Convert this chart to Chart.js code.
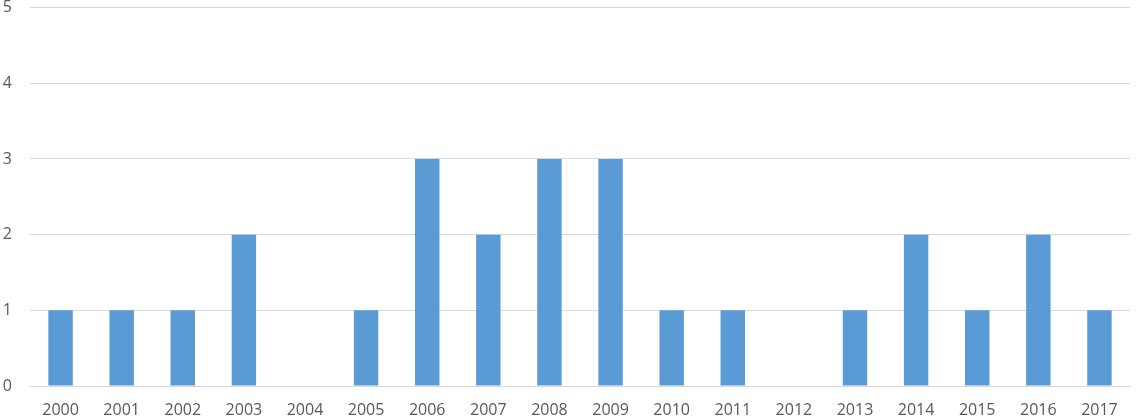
<!DOCTYPE html>
<html>
<head>
<meta charset="utf-8">
<script src="https://cdn.jsdelivr.net/npm/chart.js@4"></script>
<style>
html,body{margin:0;padding:0;overflow:hidden;background:#fff;}
#wrap{width:1140px;height:460px;position:relative;top:-20px;}
</style>
</head>
<body>
<div id="wrap"><canvas id="c"></canvas></div>
<script>
const categories = ["2000","2001","2002","2003","2004","2005","2006","2007","2008","2009","2010","2011","2012","2013","2014","2015","2016","2017"];
const values = [1,1,1,2,0,1,3,2,3,3,1,1,0,1,2,1,2,1];
const yTicks = [0,1,2,3,4,5];

new Chart(document.getElementById('c'), {
  type: 'bar',
  data: {
    labels: categories,
    datasets: [{
      data: values,
      backgroundColor: '#5B9BD5',
      borderWidth: 0,
      barPercentage: 0.8,
      categoryPercentage: 0.5
    }]
  },
  options: {
    responsive: true,
    maintainAspectRatio: false,
    animation: false,
    layout: { padding: { left: 0, right: 10, top: 0, bottom: 0 } },
    plugins: { legend: { display: false }, tooltip: { enabled: false } },
    scales: {
      x: {
        grid: { display: false, drawTicks: false },
        border: { display: true, color: '#d9d9d9', width: 1 },
        ticks: { color: '#595959', font: { family: 'Open Sans', size: 16 }, padding: 15, maxRotation: 0, autoSkip: false },
        afterFit: s => { s.height = 54; }
      },
      y: {
        min: 0, max: 5,
        afterBuildTicks: s => { s.ticks = yTicks.map(v => ({ value: v })); },
        grid: { color: '#d9d9d9', drawTicks: false },
        border: { display: false },
        ticks: { color: '#595959', font: { family: 'Open Sans', size: 16 }, padding: 18 },
        afterFit: s => { s.width = 30; }
      }
    }
  }
});
</script>
</body>
</html>
